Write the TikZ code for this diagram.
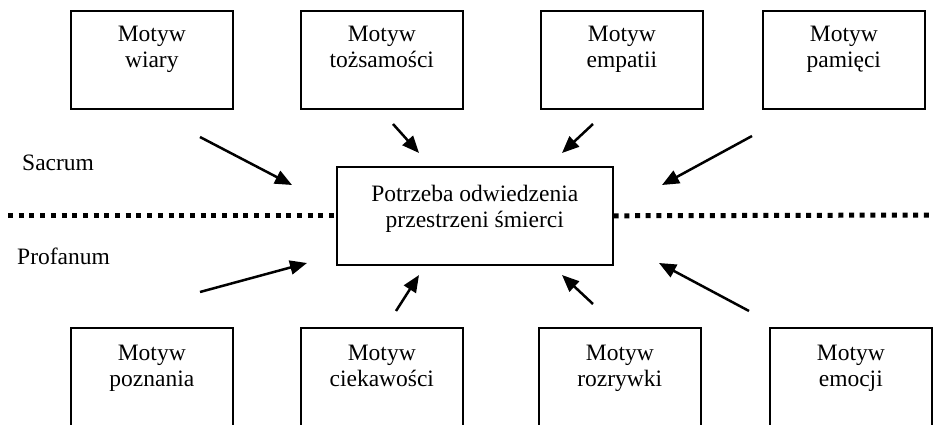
\documentclass[tikz,border=0pt]{standalone}
\usepackage{fontspec}
\setmainfont{Liberation Serif}
\usetikzlibrary{arrows.meta}
\newcommand\twoln[2]{\begin{tabular}[t]{@{}c@{}}#1\\#2\end{tabular}}
\begin{document}
\begin{tikzpicture}[x=1pt,y=-1pt,
  box/.style={draw, line width=1.6pt, minimum width=162pt, minimum height=98pt, inner sep=0pt, anchor=north west},
  lowbox/.style={box, minimum height=120pt},
  txt/.style={inner sep=0pt, anchor=base, font=\fontsize{23.5}{26}\selectfont},
  side/.style={inner sep=0pt, anchor=base west, font=\fontsize{23.5}{26}\selectfont},
  arr/.style={line width=2.5pt, -{Triangle[length=17pt,width=14pt]}},
  dots/.style={line width=5pt, dash pattern=on 5pt off 5.7pt}]
\clip (0,0) rectangle (933,425);
% top boxes
\node[box] (b1) at (70,10) {};
\node[box] (b2) at (300,10) {};
\node[box] (b3) at (540,10) {};
\node[box] (b4) at (762,10) {};
% bottom boxes
\node[lowbox] (b5) at (70,327) {};
\node[lowbox] (b6) at (300,327) {};
\node[lowbox] (b7) at (538,327) {};
\node[lowbox] (b8) at (769,327) {};
% center box
\node[box, minimum width=276pt] (c) at (336,166) {};
% texts
\node[txt] (t1) at ([yshift=-32pt]b1.north) {\twoln{Motyw}{wiary}};
\node[txt] (t2) at ([yshift=-32pt]b2.north) {\twoln{Motyw}{tożsamości}};
\node[txt] (t3) at ([yshift=-32pt]b3.north) {\twoln{Motyw}{empatii}};
\node[txt] (t4) at ([yshift=-32pt]b4.north) {\twoln{Motyw}{pamięci}};
\node[txt] (t5) at ([yshift=-33pt]b5.north) {\twoln{Motyw}{poznania}};
\node[txt] (t6) at ([yshift=-33pt]b6.north) {\twoln{Motyw}{ciekawości}};
\node[txt] (t7) at ([yshift=-33pt]b7.north) {\twoln{Motyw}{rozrywki}};
\node[txt] (t8) at ([yshift=-33pt]b8.north) {\twoln{Motyw}{emocji}};
\node[txt] (tc) at ([yshift=-35pt]c.north) {\twoln{Potrzeba odwiedzenia}{przestrzeni śmierci}};
\node[side] (sac) at (22,170) {Sacrum};
\node[side] (prof) at (17,264) {Profanum};
% dotted line
\coordinate (dl) at (8,215);
\coordinate (dr) at (940,215);
\draw[dots] (dl) -- (dl -| c.west);
\draw[dots] (c.east) -- (dr);
% arrow coordinates
\coordinate (a1s) at (200,137); \coordinate (a1e) at (292,185);
\coordinate (a2s) at (393,124); \coordinate (a2e) at (419,153);
\coordinate (a3s) at (593,124); \coordinate (a3e) at (562,153);
\coordinate (a4s) at (752,136); \coordinate (a4e) at (662,185);
\coordinate (a5s) at (200,292); \coordinate (a5e) at (307,263);
\coordinate (a6s) at (396,311); \coordinate (a6e) at (419,275);
\coordinate (a7s) at (593,304); \coordinate (a7e) at (562,275);
\coordinate (a8s) at (749,311); \coordinate (a8e) at (659,263);
\draw[arr] (a1s) -- (a1e);
\draw[arr] (a2s) -- (a2e);
\draw[arr] (a3s) -- (a3e);
\draw[arr] (a4s) -- (a4e);
\draw[arr] (a5s) -- (a5e);
\draw[arr] (a6s) -- (a6e);
\draw[arr] (a7s) -- (a7e);
\draw[arr] (a8s) -- (a8e);
\end{tikzpicture}
\end{document}
